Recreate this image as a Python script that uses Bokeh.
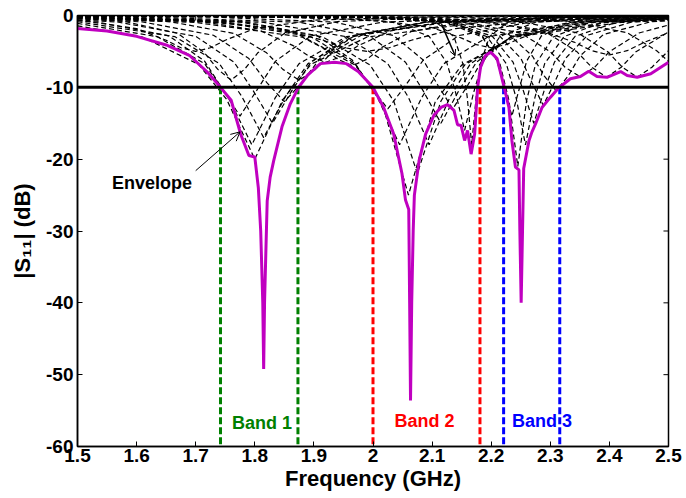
from bokeh.plotting import figure
from bokeh.models import FixedTicker, Span, Arrow, OpenHead, Range1d, ColumnDataSource
from bokeh.embed import file_html
from bokeh.resources import INLINE
from bokeh.core.properties import value

# ---------------- data ----------------
x_ticks = [1.5, 1.6, 1.7, 1.8, 1.9, 2.0, 2.1, 2.2, 2.3, 2.4, 2.5]
x_tick_labels = ["1.5", "1.6", "1.7", "1.8", "1.9", "2", "2.1", "2.2", "2.3", "2.4", "2.5"]
y_ticks = [0, -10, -20, -30, -40, -50, -60]
y_tick_labels = ["0", "-10", "-20", "-30", "-40", "-50", "-60"]

x_min, x_max = 1.5, 2.5
y_min, y_max = -60, 0
threshold_db = -10

# envelope (min over sweep)
env_f = [1.500, 1.550, 1.600, 1.650, 1.690, 1.720, 1.742, 1.760, 1.776, 1.790,
         1.800, 1.806, 1.810, 1.8135, 1.815, 1.8165, 1.819, 1.821, 1.826, 1.832,
         1.846, 1.860, 1.874, 1.889, 1.911, 1.935, 1.955, 1.975, 2.000, 2.018,
         2.035, 2.049, 2.055, 2.0605, 2.062, 2.0635, 2.0655, 2.068, 2.070, 2.078,
         2.089, 2.103, 2.115, 2.126, 2.137, 2.143, 2.149, 2.155, 2.160, 2.166,
         2.172, 2.177, 2.182, 2.190, 2.199, 2.210, 2.222, 2.230, 2.235, 2.241,
         2.247, 2.2485, 2.2507, 2.253, 2.255, 2.264, 2.269, 2.275, 2.286, 2.300,
         2.314, 2.334, 2.351, 2.365, 2.379, 2.396, 2.419, 2.430, 2.447, 2.470,
         2.500]
env_db = [-1.8, -2.15, -2.9, -4.1, -5.6, -7.9, -10.0, -11.8, -16.5, -19.5,
          -19.7, -24, -30, -40, -49.2, -40, -32, -25.8, -22.5, -20.2,
          -15.5, -12.3, -10.0, -8.35, -6.7, -6.5, -6.7, -7.8, -10.0, -12.8,
          -16.5, -22, -25.7, -27, -40, -53.6, -40, -30, -25, -20.2,
          -16.5, -13.9, -12.8, -12.4, -13.2, -15.2, -15.3, -17.4, -16.0, -19.3,
          -16.5, -10.0, -7.2, -5.6, -5.1, -6.0, -10.0, -12.8, -17.4, -21.1,
          -21.5, -30, -40, -30, -21.3, -17.4, -16.2, -15.1, -12.8, -11.4,
          -10.1, -8.8, -8.5, -7.75, -8.5, -8.6, -7.8, -8.35, -8.6, -8.1,
          -6.5]

# parametric sweep curves (dashed)
sweep_f_01 = [1.5, 1.535, 1.655, 1.715, 1.745, 1.775, 1.805, 1.835, 1.895, 2.015, 2.255, 2.5]
sweep_db_01 = [-0.73, -0.93, -2.84, -6.35, -10.2, -14, -10.2, -6.35, -2.84, -0.93, -0.25, -0.11]
sweep_f_02 = [1.5, 1.635, 1.715, 1.755, 1.795, 1.835, 1.875, 1.955, 2.115, 2.435, 2.5]
sweep_db_02 = [-1.1, -2.95, -6.7, -11.4, -18, -11.4, -6.7, -2.95, -0.95, -0.26, -0.21]
sweep_f_03 = [1.5, 1.61, 1.705, 1.7525, 1.80, 1.8475, 1.895, 1.99, 2.18, 2.5]
sweep_db_03 = [-1.44, -3.0, -6.8, -11.7, -20, -11.7, -6.8, -3.0, -0.96, -0.3]
sweep_f_04 = [1.5, 1.665, 1.74, 1.7775, 1.815, 1.8525, 1.89, 1.965, 2.115, 2.415, 2.5]
sweep_db_04 = [-0.87, -2.95, -6.7, -11.2, -17, -11.2, -6.7, -2.95, -0.95, -0.26, -0.2]
sweep_f_05 = [1.5, 1.57, 1.70, 1.765, 1.7975, 1.83, 1.8625, 1.895, 1.96, 2.09, 2.35, 2.5]
sweep_db_05 = [-0.6, -0.94, -2.9, -6.5, -10.5, -15, -10.5, -6.5, -2.9, -0.94, -0.26, -0.16]
sweep_f_06 = [1.5, 1.61, 1.73, 1.79, 1.82, 1.85, 1.88, 1.91, 1.97, 2.09, 2.33, 2.5]
sweep_db_06 = [-0.45, -0.9, -2.75, -6.0, -9.3, -12, -9.3, -6.0, -2.75, -0.9, -0.25, -0.15]
sweep_f_07 = [1.5, 1.655, 1.765, 1.82, 1.8475, 1.875, 1.9025, 1.93, 1.985, 2.095, 2.315, 2.5]
sweep_db_07 = [-0.31, -0.84, -2.5, -5.2, -7.5, -9, -7.5, -5.2, -2.5, -0.84, -0.23, -0.13]
sweep_f_08 = [1.5, 1.70, 1.81, 1.865, 1.8925, 1.92, 1.9475, 1.975, 2.03, 2.14, 2.36, 2.5]
sweep_db_08 = [-0.22, -0.73, -2.13, -4.2, -5.7, -6.5, -5.7, -4.2, -2.13, -0.73, -0.2, -0.12]
sweep_f_09 = [1.5, 1.565, 1.765, 1.865, 1.915, 1.94, 1.965, 1.99, 2.015, 2.065, 2.165, 2.365, 2.5]
sweep_db_09 = [-0.16, -0.2, -0.76, -2.22, -4.44, -6.08, -7, -6.08, -4.44, -2.22, -0.76, -0.2, -0.12]
sweep_f_10 = [1.5, 1.545, 1.785, 1.905, 1.965, 1.995, 2.025, 2.055, 2.085, 2.145, 2.265, 2.5]
sweep_db_10 = [-0.21, -0.25, -0.92, -2.8, -6.2, -9.75, -13, -9.75, -6.2, -2.8, -0.92, -0.26]
sweep_f_11 = [1.5, 1.745, 1.895, 1.97, 2.0075, 2.045, 2.0825, 2.12, 2.195, 2.345, 2.5]
sweep_db_11 = [-0.31, -0.95, -2.95, -6.7, -11.4, -18, -11.4, -6.7, -2.95, -0.95, -0.45]
sweep_f_12 = [1.5, 1.70, 1.88, 1.97, 2.015, 2.06, 2.105, 2.15, 2.24, 2.42, 2.5]
sweep_db_12 = [-0.43, -0.97, -3.0, -6.9, -12.1, -25, -12.1, -6.9, -3.0, -0.97, -0.68]
sweep_f_13 = [1.5, 1.755, 1.915, 1.995, 2.035, 2.075, 2.115, 2.155, 2.235, 2.395, 2.5]
sweep_db_13 = [-0.32, -0.97, -2.98, -6.9, -11.9, -22, -11.9, -6.9, -2.98, -0.97, -0.57]
sweep_f_14 = [1.5, 1.535, 1.815, 1.955, 2.025, 2.06, 2.095, 2.13, 2.165, 2.235, 2.375, 2.5]
sweep_db_14 = [-0.23, -0.26, -0.95, -2.95, -6.7, -11.4, -18, -11.4, -6.7, -2.95, -0.95, -0.49]
sweep_f_15 = [1.5, 1.635, 1.875, 1.995, 2.055, 2.085, 2.115, 2.145, 2.175, 2.235, 2.355, 2.5]
sweep_db_15 = [-0.16, -0.26, -0.94, -2.9, -6.5, -10.5, -15, -10.5, -6.5, -2.9, -0.94, -0.4]
sweep_f_16 = [1.5, 1.735, 1.935, 2.035, 2.085, 2.11, 2.135, 2.16, 2.185, 2.235, 2.335, 2.5]
sweep_db_16 = [-0.1, -0.25, -0.92, -2.8, -6.2, -9.75, -13, -9.75, -6.2, -2.8, -0.92, -0.3]
sweep_f_17 = [1.5, 1.915, 2.035, 2.095, 2.125, 2.14, 2.155, 2.17, 2.185, 2.215, 2.275, 2.395, 2.5]
sweep_db_17 = [-0.04, -0.26, -0.94, -2.9, -6.6, -10.8, -16, -10.8, -6.6, -2.9, -0.94, -0.26, -0.13]
sweep_f_18 = [1.5, 2.047, 2.107, 2.137, 2.152, 2.1595, 2.167, 2.1745, 2.182, 2.197, 2.227, 2.287, 2.5]
sweep_db_18 = [-0.01, -0.26, -0.95, -2.95, -6.7, -11.4, -18, -11.4, -6.7, -2.95, -0.95, -0.26, -0.035]
sweep_f_19 = [1.5, 2.035, 2.135, 2.185, 2.21, 2.2225, 2.235, 2.2475, 2.26, 2.285, 2.335, 2.435, 2.5]
sweep_db_19 = [-0.02, -0.25, -0.93, -2.84, -6.35, -10.2, -14, -10.2, -6.35, -2.84, -0.93, -0.25, -0.15]
sweep_f_20 = [1.5, 2.005, 2.125, 2.185, 2.215, 2.23, 2.245, 2.26, 2.275, 2.305, 2.365, 2.485, 2.5]
sweep_db_20 = [-0.03, -0.26, -0.96, -3.0, -6.8, -11.8, -21, -11.8, -6.8, -3.0, -0.96, -0.26, -0.23]
sweep_f_21 = [1.5, 1.998, 2.128, 2.193, 2.2255, 2.242, 2.258, 2.274, 2.2905, 2.323, 2.388, 2.5]
sweep_db_21 = [-0.03, -0.26, -0.95, -2.95, -6.7, -11.4, -18, -11.4, -6.7, -2.95, -0.95, -0.3]
sweep_f_22 = [1.5, 1.992, 2.132, 2.202, 2.237, 2.2545, 2.272, 2.2895, 2.307, 2.342, 2.412, 2.5]
sweep_db_22 = [-0.035, -0.26, -0.94, -2.9, -6.5, -10.5, -15, -10.5, -6.5, -2.9, -0.94, -0.39]
sweep_f_23 = [1.5, 1.988, 2.138, 2.213, 2.2505, 2.2693, 2.288, 2.3068, 2.3255, 2.363, 2.438, 2.5]
sweep_db_23 = [-0.04, -0.25, -0.9, -2.75, -6.0, -9.4, -12.5, -9.4, -6.0, -2.75, -0.9, -0.5]
sweep_f_24 = [1.5, 1.99, 2.15, 2.23, 2.27, 2.29, 2.31, 2.33, 2.35, 2.39, 2.47, 2.5]
sweep_db_24 = [-0.04, -0.24, -0.87, -2.64, -5.67, -8.45, -10.5, -8.45, -5.67, -2.64, -0.87, -0.72]
sweep_f_25 = [1.5, 1.95, 2.15, 2.25, 2.30, 2.325, 2.35, 2.375, 2.40, 2.45, 2.5]
sweep_db_25 = [-0.05, -0.22, -0.82, -2.44, -5.04, -7.2, -8.5, -7.2, -5.04, -2.44, -1.33]
sweep_f_26 = [1.5, 1.995, 2.195, 2.295, 2.345, 2.37, 2.395, 2.42, 2.445, 2.5]
sweep_db_26 = [-0.045, -0.22, -0.82, -2.44, -5.04, -7.2, -8.6, -7.2, -5.04, -2.3]
sweep_f_27 = [1.5, 2.047, 2.247, 2.347, 2.397, 2.422, 2.447, 2.472, 2.5]
sweep_db_27 = [-0.04, -0.22, -0.82, -2.44, -5.04, -7.2, -8.6, -7.2, -4.9]
sweep_f_28 = [1.5, 2.13, 2.33, 2.43, 2.48, 2.5]
sweep_db_28 = [-0.03, -0.22, -0.8, -2.4, -4.9, -6.4]
sweep_f_29 = [1.5, 1.58, 1.67, 1.715, 1.7375, 1.76, 1.7825, 1.805, 1.85, 1.94, 2.12, 2.5]
sweep_db_29 = [-0.43, -0.84, -2.5, -5.2, -7.5, -9, -7.5, -5.2, -2.5, -0.84, -0.23, -0.06]
sweep_f_30 = [1.5, 1.69, 1.84, 1.915, 1.9525, 1.99, 2.0275, 2.065, 2.14, 2.29, 2.5]
sweep_db_30 = [-0.26, -0.64, -1.82, -3.44, -4.49, -5, -4.49, -3.44, -1.82, -0.64, -0.25]
sweep_f_31 = [1.5, 1.80, 2.0, 2.1, 2.15, 2.175, 2.2, 2.225, 2.25, 2.3, 2.4, 2.5]
sweep_db_31 = [-0.06, -0.17, -0.6, -1.69, -3.15, -4.06, -4.5, -4.06, -3.15, -1.69, -0.6, -0.29]
sweep_f_32 = [1.5, 1.92, 2.16, 2.28, 2.34, 2.37, 2.40, 2.43, 2.46, 2.5]
sweep_db_32 = [-0.05, -0.19, -0.67, -1.93, -3.7, -4.9, -5.5, -4.9, -3.7, -2.4]
sweep_f_33 = [1.5, 1.60, 1.65, 1.675, 1.70, 1.725, 1.75, 1.80, 1.90, 2.10, 2.5]
sweep_db_33 = [-0.64, -1.82, -3.44, -4.49, -5, -4.49, -3.44, -1.82, -0.64, -0.18, -0.05]

sweep_curves = [
    (sweep_f_01, sweep_db_01), (sweep_f_02, sweep_db_02), (sweep_f_03, sweep_db_03),
    (sweep_f_04, sweep_db_04), (sweep_f_05, sweep_db_05), (sweep_f_06, sweep_db_06),
    (sweep_f_07, sweep_db_07), (sweep_f_08, sweep_db_08), (sweep_f_09, sweep_db_09),
    (sweep_f_10, sweep_db_10), (sweep_f_11, sweep_db_11), (sweep_f_12, sweep_db_12),
    (sweep_f_13, sweep_db_13), (sweep_f_14, sweep_db_14), (sweep_f_15, sweep_db_15),
    (sweep_f_16, sweep_db_16), (sweep_f_17, sweep_db_17), (sweep_f_18, sweep_db_18),
    (sweep_f_19, sweep_db_19), (sweep_f_20, sweep_db_20), (sweep_f_21, sweep_db_21),
    (sweep_f_22, sweep_db_22), (sweep_f_23, sweep_db_23), (sweep_f_24, sweep_db_24),
    (sweep_f_25, sweep_db_25), (sweep_f_26, sweep_db_26), (sweep_f_27, sweep_db_27),
    (sweep_f_28, sweep_db_28), (sweep_f_29, sweep_db_29), (sweep_f_30, sweep_db_30),
    (sweep_f_31, sweep_db_31), (sweep_f_32, sweep_db_32), (sweep_f_33, sweep_db_33),
]

# bands
band_edges = [1.742, 1.873, 2.000, 2.181, 2.221, 2.316]
band_edge_colors = ["#008000", "#008000", "#FF0000", "#FF0000", "#0000FF", "#0000FF"]
band_names = ["Band 1", "Band 2", "Band 3"]
band_label_x = [1.812, 2.087, 2.286]
band_label_y = [-56.7, -56.5, -56.5]
band_label_colors = ["#008000", "#FF0000", "#0000FF"]

env_label = ["Envelope"]
env_label_x = [1.626]
env_label_y = [-23.3]
env_arrow = [1.700, -21.6, 1.775, -16.2]   # x0, y0, x1, y1
sweep_arrow = [2.116, -1.2, 2.139, -5.6]

# inner tick lengths for the top / right frame edges (about 5 px)
top_tick_len_db = 0.7
right_tick_len_ghz = 0.0085

FONT = "Liberation Sans"

# ---------------- figure ----------------
p = figure(width=686, height=498, output_backend="svg", toolbar_location=None,
           x_range=Range1d(x_min, x_max), y_range=Range1d(y_min, y_max),
           min_border_left=77, min_border_right=18, min_border_top=15, min_border_bottom=52,
           x_axis_label="Frequency (GHz)", y_axis_label="|S\u2081\u2081| (dB)")
p.background_fill_color = "white"
p.border_fill_color = "white"
p.xgrid.visible = False
p.ygrid.visible = False
p.outline_line_color = "black"
p.outline_line_width = 1.5

for ax, ticks, labels in ((p.xaxis[0], x_ticks, x_tick_labels), (p.yaxis[0], y_ticks, y_tick_labels)):
    ax.ticker = FixedTicker(ticks=ticks)
    ax.major_label_overrides = dict(zip(ticks, labels))
    ax.major_label_text_font = FONT
    ax.major_label_text_font_style = "bold"
    ax.major_label_text_font_size = "19px"
    ax.major_label_text_color = "black"
    ax.axis_label_text_font = FONT
    ax.axis_label_text_font_style = "bold"
    ax.axis_label_text_font_size = "22px"
    ax.axis_label_text_color = "black"
    ax.major_tick_in = 5
    ax.major_tick_out = 0
    ax.minor_tick_line_color = None
    ax.axis_line_width = 1.5
    ax.major_tick_line_width = 1
    ax.major_label_standoff = 3

p.xaxis[0].major_label_standoff = 2
p.xaxis[0].axis_label_standoff = 1
p.yaxis[0].major_label_standoff = 4
p.yaxis[0].axis_label_standoff = 8

# inner ticks on the top and right edges of the box
p.segment(x0=x_ticks, y0=[y_max] * len(x_ticks), x1=x_ticks,
          y1=[y_max - top_tick_len_db] * len(x_ticks), line_color="black", line_width=1)
p.segment(x0=[x_max] * len(y_ticks), y0=y_ticks, x1=[x_max - right_tick_len_ghz] * len(y_ticks),
          y1=y_ticks, line_color="black", line_width=1)

# dashed sweep curves
for f, db in sweep_curves:
    p.line(f, db, line_color="black", line_width=1.2, line_dash="5 3")

# sweep direction arrow
p.add_layout(Arrow(end=OpenHead(size=6, line_width=1, line_color="black"),
                   x_start=sweep_arrow[0], y_start=sweep_arrow[1],
                   x_end=sweep_arrow[2], y_end=sweep_arrow[3],
                   line_color="black", line_width=1.5))

# -10 dB threshold
p.add_layout(Span(location=threshold_db, dimension="width", line_color="black", line_width=3))

# band edges
band_src = ColumnDataSource(dict(x=band_edges, y0=[threshold_db] * len(band_edges),
                                 y1=[y_min] * len(band_edges), c=band_edge_colors))
p.segment(x0="x", y0="y0", x1="x", y1="y1", color="c", line_width=3,
          line_dash="7 3", source=band_src)

# envelope
p.line(env_f, env_db, line_color="#C000C0", line_width=3)

# labels
lab_src = ColumnDataSource(dict(x=band_label_x, y=band_label_y, t=band_names, c=band_label_colors))
p.text(x="x", y="y", text="t", text_color="c", source=lab_src, text_align="center",
       text_baseline="middle", text_font=value(FONT), text_font_style="bold",
       text_font_size="18px")

p.text(x=env_label_x, y=env_label_y, text=env_label, text_color="black", text_align="center",
       text_baseline="middle", text_font=value(FONT), text_font_style="bold",
       text_font_size="18px")
p.add_layout(Arrow(end=OpenHead(size=9, line_width=1, line_color="black"),
                   x_start=env_arrow[0], y_start=env_arrow[1],
                   x_end=env_arrow[2], y_end=env_arrow[3],
                   line_color="black", line_width=1))

open("out.html", "w").write(file_html(p, INLINE))
